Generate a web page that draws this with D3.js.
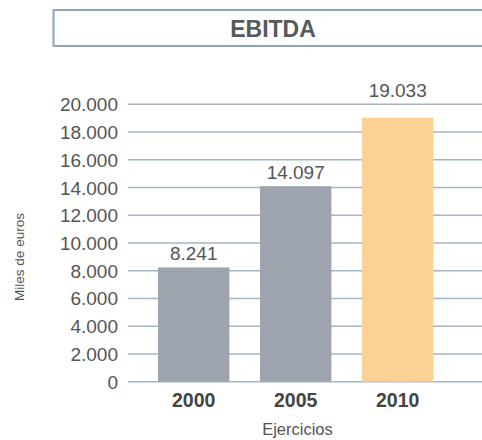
<!DOCTYPE html>
<html lang="es">
<head>
  <meta charset="UTF-8">
  <title>EBITDA</title>
  <script src="https://d3js.org/d3.v7.min.js"></script>
  <style>
    html, body { margin: 0; padding: 0; background: #fff; }
    body { font-family: "Liberation Sans", Arial, sans-serif; }
    svg { display: block; }
    .grid line { stroke: #a3b6c8; stroke-width: 1.6px; }
    .tick-label { font-size: 19px; fill: #555; text-anchor: end; }
    .year-label { font-size: 19.5px; font-weight: bold; fill: #444; text-anchor: middle; }
    .value-label { font-size: 19px; fill: #555; text-anchor: middle; }
  </style>
</head>
<body>
  <svg width="482" height="440"></svg>
  <script>
    const years  = ["2000", "2005", "2010"];
    const ebitda = [8241, 14097, 19033];
    const barColors = ["#9ea4ae", "#9ea4ae", "#fdd095"];
    const yTicks = [0, 2000, 4000, 6000, 8000, 10000, 12000, 14000, 16000, 18000, 20000];

    const svg = d3.select("svg");
    const fmt = d3.formatLocale({ decimal: ",", thousands: ".", grouping: [3], currency: ["", "€"] }).format(",d");

    // title box
    svg.append("rect")
      .attr("x", 53.5).attr("y", 10).attr("width", 440).attr("height", 36)
      .attr("fill", "#fff").attr("stroke", "#8ea4b8").attr("stroke-width", 2);
    svg.append("text")
      .attr("x", 273).attr("y", 36.5)
      .attr("text-anchor", "middle")
      .style("font-size", "23px").style("font-weight", "bold").style("fill", "#58595b")
      .text("EBITDA");

    const y = d3.scaleLinear().domain([0, 20000]).range([381.7, 104.3]);
    const x = d3.scaleBand().domain(years).range([142.7, 448.7]).paddingInner(0.3).paddingOuter(0.15);

    // gridlines
    const grid = svg.append("g").attr("class", "grid");
    grid.selectAll("line").data(yTicks).enter().append("line")
      .attr("x1", 128).attr("x2", 482)
      .attr("y1", d => y(d)).attr("y2", d => y(d));

    svg.append("g").selectAll("text").data(yTicks).enter().append("text")
      .attr("class", "tick-label")
      .attr("x", 118).attr("y", d => y(d) + 7)
      .text(d => fmt(d));

    // bars
    svg.append("g").selectAll("rect").data(years).enter().append("rect")
      .attr("x", d => x(d))
      .attr("y", (d, i) => y(ebitda[i]))
      .attr("width", x.bandwidth())
      .attr("height", (d, i) => y(0) - y(ebitda[i]))
      .attr("fill", (d, i) => barColors[i]);

    // value labels; pushed above the top gridline if they would cross it
    const gridTop = y(d3.max(yTicks));
    svg.append("g").selectAll("text").data(years).enter().append("text")
      .attr("class", "value-label")
      .attr("x", d => x(d) + x.bandwidth() / 2)
      .attr("y", (d, i) => {
        let ly = y(ebitda[i]) - 7;
        if (ly > gridTop && ly - 14 < gridTop) ly = gridTop - 7;
        return ly;
      })
      .text((d, i) => fmt(ebitda[i]));

    // year labels
    svg.append("g").selectAll("text").data(years).enter().append("text")
      .attr("class", "year-label")
      .attr("x", d => x(d) + x.bandwidth() / 2)
      .attr("y", 406.5)
      .text(d => d);

    svg.append("text")
      .attr("x", 297.5).attr("y", 435)
      .attr("text-anchor", "middle")
      .style("font-size", "16.5px").style("fill", "#555")
      .text("Ejercicios");

    svg.append("text")
      .attr("transform", "translate(24,257) rotate(-90)")
      .attr("text-anchor", "middle")
      .style("font-size", "13.5px").style("fill", "#555")
      .text("Miles de euros");
  </script>
</body>
</html>
